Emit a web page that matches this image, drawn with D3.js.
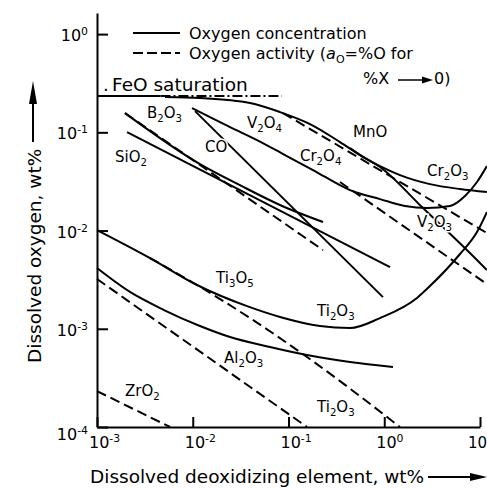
<!DOCTYPE html>
<html>
<head>
<meta charset="utf-8">
<script src="https://cdn.jsdelivr.net/npm/d3@7"></script>
<style>
  body { margin: 0; background: #fff; }
  svg { display: block; font-family: "DejaVu Sans", sans-serif; }
</style>
</head>
<body>
<svg width="487" height="488"></svg>
<script>
// deoxidation equilibria, values (wt%, log-log)
const xTicks = [1e-3, 1e-2, 1e-1, 1, 10];
const xTickExp = ["-3", "-2", "-1", "0", ""];
const yTicks = [1e-4, 1e-3, 1e-2, 1e-1, 1];
const yTickExp = ["-4", "-3", "-2", "-1", "0"];

const feoSat = 0.234;
const feoSolidX = [0.001, 0.0046];
const feoDashX = [0.0046, 0.085];

// solid = oxygen concentration, dashed = oxygen activity
const mnoConc = [[0.00513,0.2285],[0.0119,0.2232],[0.0396,0.1985],[0.0815,0.1607],[0.1677,0.1213],[0.345,0.0796],[0.558,0.0587],[0.903,0.0443],[2.54,0.01694],[9.30,0.00501],[11.8,0.00396]];
const crConc = [[0.4387,0.0691],[0.63,0.0547],[0.903,0.0453],[1.46,0.0367],[3.0,0.0297],[6.18,0.02645],[11.8,0.02465]];
const vConc = [[0.00982,0.1765],[0.0245,0.1131],[0.0469,0.0834],[0.0919,0.0587],[0.1803,0.0413],[0.4387,0.02584],[0.903,0.0209],[1.647,0.01776],[2.796,0.01694],[4.86,0.01776],[6.97,0.02245],[9.30,0.0312],[11.8,0.0453]];
const crAct = [[0.0876,0.157],[11.8,0.00943]];
const vAct = [[0.345,0.0312],[11.8,0.00285]];
const coConc = [[0.01056,0.1645],[0.970,0.0021]];
const b2o3Act = [[0.00196,0.157],[0.2292,0.00633]];
const b2o3Conc = [[0.00196,0.157],[0.0119,0.0475],[0.0311,0.029],[0.0815,0.0182],[0.2292,0.0122]];
const sio2Conc = [[0.00206,0.1006],[1.148,0.00425]];
const tiConc = [[0.001,0.01012],[0.00358,0.00525],[0.01108,0.00279],[0.0369,0.0017],[0.0815,0.00132],[0.2133,0.001067],[0.4387,0.001018],[0.903,0.001286],[2.198,0.00206],[3.0,0.00272],[6.18,0.00577],[9.30,0.00965],[11.8,0.01543]];
const tiAct = [[0.00358,0.00525],[0.01108,0.00279],[0.0396,0.001286],[0.156,0.000516],[1.46,0.0001]];
const al2o3Conc = [[0.001,0.00415],[0.00221,0.00237],[0.00501,0.001552],[0.0119,0.001067],[0.0245,0.000824],[0.0641,0.000652],[0.156,0.00054],[0.4387,0.000459],[1.234,0.000408]];
const al2o3Act = [[0.001,0.00321],[0.156,0.0001]];
const zro2Act = [[0.001,0.000232],[0.00579,0.0001]];

const labelNames = ["B2O3","SiO2","CO","V2O4","MnO","Cr2O4","Cr2O3","V2O3","Ti3O5","Ti2O3","Al2O3","ZrO2","Ti2O3"];
const labelAt = [[0.00333,0.1396],[0.00154,0.0498],[0.01342,0.063],[0.0369,0.1105],[0.4716,0.0895],[0.1318,0.051],[2.796,0.0359],[2.198,0.01085],[0.0175,0.00292],[0.1985,0.001348],[0.0212,0.000448],[0.00196,0.000207],[0.1985,0.000142]];

const svg = d3.select("svg");
const x = d3.scaleLog().domain([1e-3, 10]).range([97, 480]);
const y = d3.scaleLog().domain([1e-4, 1.64]).range([427, 13]);

const line = d3.line()
  .x(function (d) { return x(d[0]); })
  .y(function (d) { return y(d[1]); })
  .curve(d3.curveMonotoneX);

// axes
const gx = svg.append("g")
  .attr("transform", "translate(0," + y(1e-4) + ")")
  .call(d3.axisBottom(x).tickValues(xTicks).tickSizeInner(-10).tickSizeOuter(0).tickFormat(""));
const gy = svg.append("g")
  .attr("transform", "translate(" + x(1e-3) + ",0)")
  .call(d3.axisLeft(y).tickValues(yTicks).tickSizeInner(-11).tickSizeOuter(0).tickFormat(""));
svg.selectAll(".domain, .tick line").attr("stroke", "#000").attr("stroke-width", 2);

function power(t, exp, size) {
  t.append("tspan").attr("font-size", size).text("10");
  if (exp) t.append("tspan").attr("font-size", size * 0.68).attr("dy", -6).text(exp);
}

svg.append("g").selectAll("text")
  .data(xTicks)
  .join("text")
  .attr("x", function (d) { return x(d) - (d === 10 ? 12 : 8); })
  .attr("y", 448)
  .each(function (d, i) { power(d3.select(this), xTickExp[i], d === 10 ? 15 : 16); });

svg.append("g").selectAll("text")
  .data(yTicks)
  .join("text")
  .attr("text-anchor", "end")
  .attr("x", 88)
  .attr("y", function (d) { return y(d) + (d === 1e-4 ? 13 : 7); })
  .each(function (d, i) { power(d3.select(this), yTickExp[i], 16); });

// curves
const series = [
  { pts: feoSolidX.map(function (v) { return [v, feoSat]; }), dash: null },
  { pts: feoDashX.map(function (v) { return [v, feoSat]; }), dash: "10,3,2,3" },
  { pts: mnoConc, dash: null },
  { pts: crConc, dash: null },
  { pts: vConc, dash: null },
  { pts: crAct, dash: "10,5" },
  { pts: vAct, dash: "10,5" },
  { pts: coConc, dash: null },
  { pts: b2o3Act, dash: "10,5" },
  { pts: b2o3Conc, dash: null },
  { pts: sio2Conc, dash: null },
  { pts: tiConc, dash: null },
  { pts: tiAct, dash: "10,5" },
  { pts: al2o3Conc, dash: null },
  { pts: al2o3Act, dash: "10,5" },
  { pts: zro2Act, dash: "10,5" }
];

svg.append("g").selectAll("path")
  .data(series)
  .join("path")
  .attr("d", function (d) { return line(d.pts); })
  .attr("fill", "none")
  .attr("stroke", "#000")
  .attr("stroke-width", 2)
  .attr("stroke-dasharray", function (d) { return d.dash; });

// compound labels, digits as subscripts
function compound(t, name, size) {
  let down = 0;
  name.match(/[A-Za-z]+|\d+/g).forEach(function (p) {
    const isSub = /\d/.test(p);
    const off = isSub ? 4 : 0;
    t.append("tspan").attr("dy", off - down).attr("font-size", isSub ? size * 0.68 : size).text(p);
    down = off;
  });
}

svg.append("g").selectAll("text")
  .data(labelNames)
  .join("text")
  .attr("x", function (d, i) { return x(labelAt[i][0]); })
  .attr("y", function (d, i) { return y(labelAt[i][1]); })
  .attr("stroke", "#fff")
  .attr("stroke-width", 3)
  .attr("paint-order", "stroke")
  .each(function (d) { compound(d3.select(this), d, 15); });

// FeO saturation
svg.append("text").attr("x", 103).attr("y", y(feoSat) - 5).attr("font-size", 18).text(".");
svg.append("text").attr("x", 112).attr("y", y(feoSat) - 5).attr("font-size", 18.5).text("FeO saturation");

// legend
svg.append("line").attr("x1", 133).attr("x2", 180).attr("y1", 33).attr("y2", 33)
  .attr("stroke", "#000").attr("stroke-width", 2);
svg.append("line").attr("x1", 133).attr("x2", 180).attr("y1", 53).attr("y2", 53)
  .attr("stroke", "#000").attr("stroke-width", 2).attr("stroke-dasharray", "10,4");
svg.append("text").attr("x", 189).attr("y", 39).attr("font-size", 16).text("Oxygen concentration");
const act = svg.append("text").attr("x", 189).attr("y", 59).attr("font-size", 16);
act.append("tspan").text("Oxygen activity (");
act.append("tspan").attr("font-style", "italic").text("a");
act.append("tspan").attr("font-size", 11).attr("dy", 4).text("O");
act.append("tspan").attr("dy", -4).text("=%O for");
svg.append("text").attr("x", 363).attr("y", 84).attr("font-size", 16).text("%X");
svg.append("line").attr("x1", 398).attr("x2", 424).attr("y1", 80).attr("y2", 80)
  .attr("stroke", "#000").attr("stroke-width", 1.5);
svg.append("path").attr("d", "M433,80L422,76.5L422,83.5Z").attr("fill", "#000");
svg.append("text").attr("x", 434).attr("y", 84).attr("font-size", 16).text("0)");

// axis titles with arrows
svg.append("text").attr("x", 90).attr("y", 483).attr("font-size", 18.5)
  .text("Dissolved deoxidizing element, wt%");
svg.append("line").attr("x1", 428).attr("x2", 475).attr("y1", 477).attr("y2", 477)
  .attr("stroke", "#000").attr("stroke-width", 2);
svg.append("path").attr("d", "M487,477L470,473L470,481Z").attr("fill", "#000");

svg.append("text").attr("transform", "translate(41,363) rotate(-90)").attr("font-size", 18.5)
  .text("Dissolved oxygen, wt%");
svg.append("line").attr("x1", 33).attr("x2", 33).attr("y1", 142).attr("y2", 100)
  .attr("stroke", "#000").attr("stroke-width", 2);
svg.append("path").attr("d", "M33,81L29,104L37,104Z").attr("fill", "#000");
</script>
</body>
</html>
